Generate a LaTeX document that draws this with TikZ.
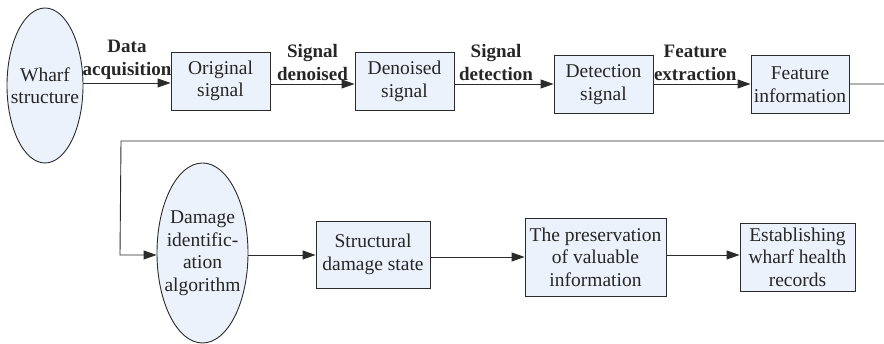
\documentclass[tikz,border=0pt]{standalone}
\usepackage{fontspec}
\setmainfont{Liberation Serif}
\usetikzlibrary{shapes.geometric,arrows.meta}
\definecolor{boxfill}{HTML}{EBF2FB}
\definecolor{edge}{HTML}{2B2B2B}
\begin{document}
\begin{tikzpicture}[x=1pt,y=-1pt,
  txt/.style={font=\fontsize{19.5}{22.5}\selectfont, align=center, text=black!85},
  box/.style={txt, draw=edge, line width=0.9pt, fill=boxfill, inner sep=2pt, minimum height=58},
  oval/.style={ellipse, draw=edge, line width=0.9pt, fill=boxfill, inner sep=0pt},
  lbl/.style={font=\fontsize{19}{23}\selectfont\bfseries, align=center, inner sep=3pt, text=black!85},
  conn/.style={draw=edge, line width=0.9pt},
  arr/.style={conn, -{Triangle[length=13pt,width=9pt]}}]
\useasboundingbox (0,0) rectangle (884,344);
% row 1
\node[oval, minimum width=76, minimum height=155] (ws) at (45,85.5) {};
\node[txt] (wst) at (ws.center) {Wharf\\structure};
\node[box, minimum width=99] (os) at (220.5,81) {Original\\signal};
\node[box, minimum width=99] (ds) at (404.5,81.5) {Denoised\\signal};
\node[box, minimum width=99] (dt) at (603.5,84.5) {Detection\\signal};
\node[box, minimum width=98] (fi) at (800,84.5) {Feature\\information};
% row 2
\node[oval, minimum width=91, minimum height=180] (da) at (202.5,253) {};
\node[txt] (dat) at (da.center) {Damage\\identific-\\ation\\algorithm};
\node[box, minimum width=114, minimum height=67] (sd) at (373,254.5) {Structural\\damage state};
\node[box, minimum width=141, minimum height=78] (pv) at (595.5,257) {The preservation\\of valuable\\information};
\node[box, minimum width=115, minimum height=68] (eh) at (797.5,257) {Establishing\\wharf health\\records};
% connectors
\draw[arr] (ws.east |- 0,83) -- node[lbl, above] {Data\\acquisition} (os.west |- 0,83);
\draw[arr] (os.east |- 0,84) -- node[lbl, above] {Signal\\denoised} (ds.west |- 0,84);
\draw[arr] (ds.east |- 0,84) -- node[lbl, above, pos=0.42] {Signal\\detection} (dt.west |- 0,84);
\draw[arr] (dt.east |- 0,84) -- node[lbl, above, pos=0.43] {Feature\\extraction} (fi.west |- 0,84);
\coordinate (r1) at (892,84);
\coordinate (r2) at (892,141);
\coordinate (l1) at (121,141);
\coordinate (l2) at (120,255);
\draw[arr] (fi.east |- r1) -- (r1) -- (r2) -- (l1) -- (l2) -- (da.west |- l2);
\draw[arr] (da.east |- 0,255) -- (sd.west |- 0,255);
\draw[arr] (sd.east |- 0,257) -- (pv.west |- 0,257);
\draw[arr] (pv.east |- 0,255) -- (eh.west |- 0,255);
\end{tikzpicture}
\end{document}
